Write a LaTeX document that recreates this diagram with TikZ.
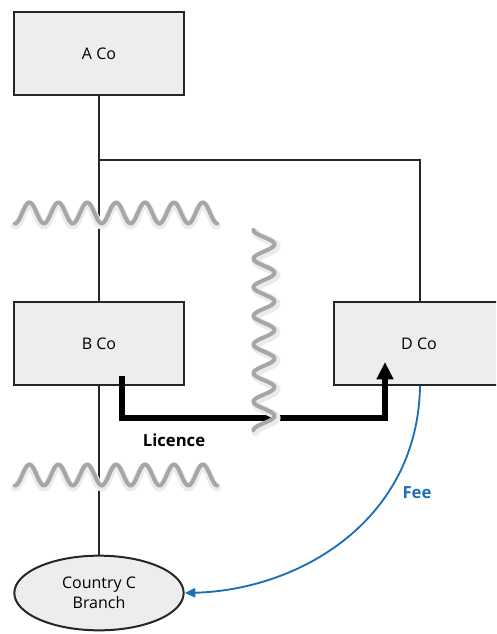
\documentclass[tikz,border=0pt]{standalone}
\usepackage{fontspec}
\setmainfont{Open Sans}
\usetikzlibrary{arrows.meta,shapes.geometric}
\definecolor{boxfill}{HTML}{EDEDED}
\definecolor{waveg}{HTML}{A6A6A6}
\definecolor{feeblue}{HTML}{1F6FB5}
\definecolor{lineg}{HTML}{262626}
\tikzset{
  company/.style={draw=lineg, line width=1.5pt, fill=boxfill, minimum width=127.5pt, minimum height=62pt, font=\fontsize{12}{14}\selectfont, inner sep=0pt},
  conn/.style={draw=lineg, line width=1.5pt},
  wave/.style={draw=waveg, line width=3pt, line cap=round},
  waveshadow/.style={draw=black!8, line width=6pt, line cap=round},
  licarrow/.style={draw=black, line width=3.8pt, -{Triangle[length=13pt,width=12pt]}},
  feearrow/.style={draw=feeblue, line width=1.4pt, -{Triangle[length=8pt,width=7pt]}},
  bold/.style={font=\fontsize{12.5}{14}\selectfont\bfseries}
}
\begin{document}
\begin{tikzpicture}[x=0.75pt,y=-0.75pt]
\useasboundingbox (0,0) rectangle (496,634);
\begin{scope}
\clip (0,0) rectangle (496,634);
\node[company] (A) at (99,53.5) {A Co};
\node[company] (B) at (99,343.5) {B Co};
\node[company] (D) at (419,343.5) {D Co};
\node[ellipse, draw=lineg, line width=1.5pt, fill=boxfill, minimum width=127pt, minimum height=56pt, inner sep=0pt, align=center, font=\fontsize{12}{15}\selectfont] (C) at (99,593) {Country C\\Branch};
\coordinate (jA) at (99,160);
\coordinate (jD) at (420,160);
\draw[conn] (A.south) -- (B.north);
\draw[conn] (jA) -- (jD) -- (D.north -| jD);
\draw[conn] (B.south) -- (C.north);
% licence arrow
\coordinate (ls) at (122,376);
\coordinate (le) at (385,362);
\draw[licarrow] (ls) -- (122,418) -- (385,418) -- (le);
\node[bold] (lic) at (174,440) {Licence};
% wavy lines
\foreach \yy in {213,475}{
  \draw[waveshadow] plot[domain=0:2520, samples=200, smooth] ({15+\x/360*28.9},{\yy+2+10.5*cos(\x)});
  \draw[wave] plot[domain=0:2520, samples=200, smooth] ({15+\x/360*28.9},{\yy+10.5*cos(\x)});
}
\draw[waveshadow] plot[domain=0:2520, samples=200, smooth] ({266-10.5*cos(\x)},{232+\x/360*28.6});
\draw[wave] plot[domain=0:2520, samples=200, smooth] ({264-10.5*cos(\x)},{230+\x/360*28.6});
% fee arrow
\coordinate (fs) at (420,386);
\draw[feearrow] (fs) .. controls (418,520) and (300,590) .. (C.east);
\node[bold, text=feeblue] (fee) at (417,493) {Fee};
\end{scope}
\end{tikzpicture}
\end{document}
